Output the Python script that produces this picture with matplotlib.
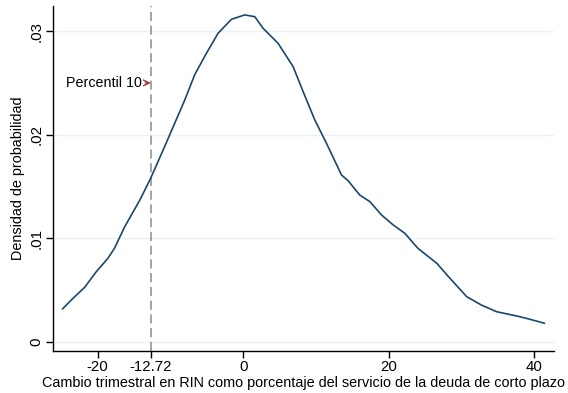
import matplotlib
matplotlib.use("Agg")
import matplotlib.pyplot as plt

plt.rcParams['font.family'] = ['Liberation Sans', 'DejaVu Sans']

# Kernel density estimate of the quarterly change (read off points)
x_vals = [-24.85, -23.4, -21.8, -20.2, -18.6, -17.7, -16.3, -14.2, -12.72, -10.8,
          -8.04, -6.67, -5.06, -3.46, -1.62, 0.2, 1.58, 2.72, 4.78, 6.85, 8.2,
          9.83, 11.43, 13.5, 14.4, 16.0, 17.4, 19.0, 20.6, 22.2, 24.0, 26.6,
          28.2, 30.7, 32.7, 34.8, 37.6, 38.9, 41.4]
density = [0.00316, 0.00419, 0.00525, 0.00676, 0.00806, 0.00902, 0.0111, 0.0137,
           0.0158, 0.01886, 0.02335, 0.0258, 0.02787, 0.0298, 0.03115, 0.03157,
           0.0314, 0.03028, 0.02883, 0.02657, 0.0242, 0.02142, 0.01917, 0.0161,
           0.01556, 0.01417, 0.01353, 0.01224, 0.01128, 0.01047, 0.00902,
           0.00757, 0.00628, 0.00435, 0.00355, 0.0029, 0.00248, 0.00226, 0.00178]

p10 = -12.72
arrow_y = 0.025
x_ticks = [-20, p10, 0, 20, 40]
x_ticklabels = ['-20', '-12.72', '0', '20', '40']
y_ticks = [0, 0.01, 0.02, 0.03]
y_ticklabels = ['0', '.01', '.02', '.03']

fig = plt.figure(figsize=(5.68, 3.93), dpi=100)
ax = fig.add_axes([0.0939, 0.1076, 0.9754 - 0.0939, 0.9847 - 0.1076])

ax.plot(x_vals, density, color='#1a476f', lw=1.2, zorder=3,
        solid_joinstyle='round', solid_capstyle='round')
ax.axvline(p10, color='#8c8c8c', lw=1.1, ls=(0, (6, 3)), zorder=2)

ax.annotate('Percentil 10', xy=(p10, arrow_y), xytext=(-6, 0),
            textcoords='offset points', ha='right', va='center', fontsize=10.3,
            arrowprops=dict(arrowstyle='->', color='#90353b', lw=1.0,
                            shrinkA=0, shrinkB=0))

ax.set_xlim(-26.1, 42.7)
ax.set_ylim(-0.00087, 0.03243)
ax.set_xticks(x_ticks)
ax.set_xticklabels(x_ticklabels)
ax.set_yticks(y_ticks)
ax.set_yticklabels(y_ticklabels, rotation=90, va='center')
ax.grid(axis='y', color='#eaf2f3', lw=1.0, zorder=0)
ax.set_axisbelow(True)

for s in ['top', 'right']:
    ax.spines[s].set_visible(False)
for s in ['left', 'bottom']:
    ax.spines[s].set_color('#000000')
    ax.spines[s].set_linewidth(1.0)
ax.tick_params(axis='both', direction='out', length=5, width=1.0,
               labelsize=10.8, pad=2)

ax.set_xlabel('Cambio trimestral en RIN como porcentaje del servicio de la deuda de corto plazo',
              fontsize=10.4, labelpad=1)
ax.set_ylabel('Densidad de probabilidad', fontsize=10.4, labelpad=3)

fig.savefig('out.png', dpi=100)
